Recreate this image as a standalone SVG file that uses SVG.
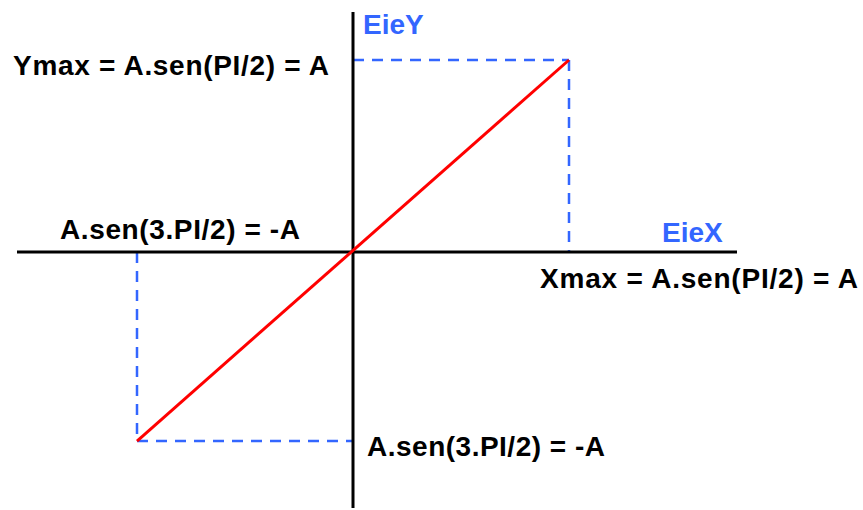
<svg xmlns="http://www.w3.org/2000/svg" width="863" height="510" viewBox="0 0 863 510">
<style>
.axis{stroke:#000;stroke-width:3;fill:none}
.dash{stroke:#3366ff;stroke-width:2.5;stroke-dasharray:11 8;fill:none}
.red{stroke:#ff0000;stroke-width:3;fill:none}
.lbl{font-family:"Liberation Sans",Arial,sans-serif;font-weight:bold;font-size:28px;fill:#000}
.blue{fill:#3366ff}
</style>
<rect width="863" height="510" fill="#fff"/>
<g id="connectors">
<line class="dash" x1="353" y1="60" x2="569" y2="60"/>
<line class="dash" x1="569" y1="60" x2="569" y2="252"/>
<line class="dash" x1="137" y1="252" x2="137" y2="441"/>
<line class="dash" x1="137" y1="441" x2="353" y2="441"/>
<line class="axis" x1="17" y1="252" x2="737" y2="252"/>
<line class="axis" x1="353" y1="12" x2="353" y2="508"/>
<line class="red" x1="137" y1="441" x2="569" y2="60"/>
</g>
<g id="eieY"><text class="lbl blue" x="363" y="34">EieY</text></g>
<g id="eieX"><text class="lbl blue" x="662" y="242">EieX</text></g>
<g id="ymax"><text class="lbl" x="13" y="75" textLength="316">Ymax = A.sen(PI/2) = A</text></g>
<g id="xmin"><text class="lbl" x="60" y="239" textLength="240">A.sen(3.PI/2) = -A</text></g>
<g id="xmax"><text class="lbl" x="540" y="288" textLength="318">Xmax = A.sen(PI/2) = A</text></g>
<g id="ymin"><text class="lbl" x="367" y="456" textLength="238">A.sen(3.PI/2) = -A</text></g>
</svg>
